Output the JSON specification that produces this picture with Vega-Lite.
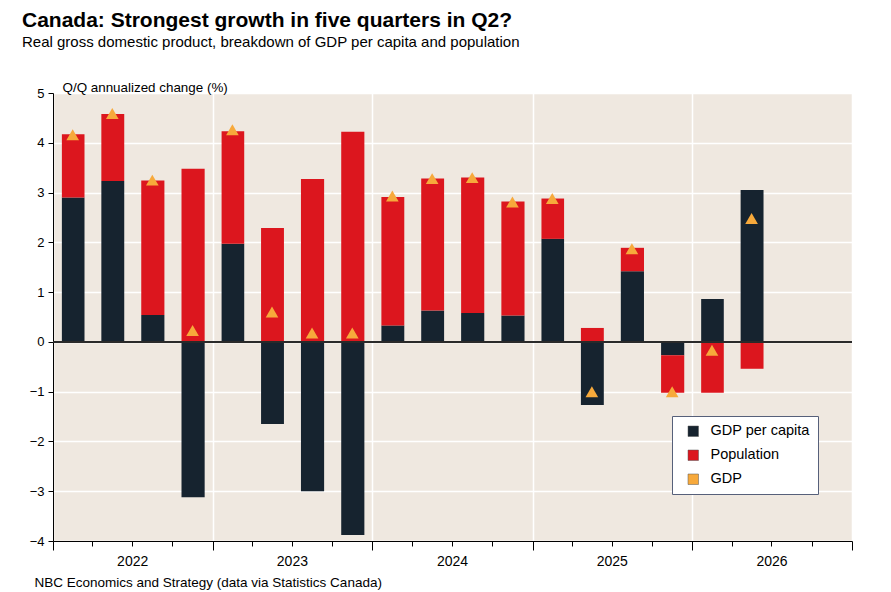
{
  "$schema": "https://vega.github.io/schema/vega-lite/v6.json",
  "width": 799,
  "height": 448,
  "autosize": "none",
  "padding": {"left": 53, "top": 93, "right": 39, "bottom": 51},
  "background": "#ffffff",
  "title": {
    "text": "Canada: Strongest growth in five quarters in Q2?",
    "subtitle": "Real gross domestic product, breakdown of GDP per capita and population",
    "anchor": "start",
    "frame": "group",
    "dx": -31,
    "offset": 30,
    "font": "Liberation Sans",
    "fontSize": 21,
    "fontWeight": "bold",
    "color": "#000000",
    "subtitleFont": "Liberation Sans",
    "subtitleFontSize": 15,
    "subtitleColor": "#000000",
    "subtitlePadding": 4
  },
  "data": {
    "values": [
      {"quarter": "2022/01/01", "GDP per capita": 2.90, "Population": 1.27, "GDP": 4.16},
      {"quarter": "2022/04/01", "GDP per capita": 3.23, "Population": 1.35, "GDP": 4.59},
      {"quarter": "2022/07/01", "GDP per capita": 0.54, "Population": 2.70, "GDP": 3.25},
      {"quarter": "2022/10/01", "GDP per capita": -3.12, "Population": 3.48, "GDP": 0.23},
      {"quarter": "2023/01/01", "GDP per capita": 1.97, "Population": 2.26, "GDP": 4.26},
      {"quarter": "2023/04/01", "GDP per capita": -1.65, "Population": 2.29, "GDP": 0.60},
      {"quarter": "2023/07/01", "GDP per capita": -3.00, "Population": 3.27, "GDP": 0.18},
      {"quarter": "2023/10/01", "GDP per capita": -3.88, "Population": 4.22, "GDP": 0.18},
      {"quarter": "2024/01/01", "GDP per capita": 0.33, "Population": 2.58, "GDP": 2.93},
      {"quarter": "2024/04/01", "GDP per capita": 0.63, "Population": 2.65, "GDP": 3.28},
      {"quarter": "2024/07/01", "GDP per capita": 0.58, "Population": 2.72, "GDP": 3.30},
      {"quarter": "2024/10/01", "GDP per capita": 0.53, "Population": 2.29, "GDP": 2.81},
      {"quarter": "2025/01/01", "GDP per capita": 2.07, "Population": 0.81, "GDP": 2.88},
      {"quarter": "2025/04/01", "GDP per capita": -1.27, "Population": 0.28, "GDP": -1.00},
      {"quarter": "2025/07/01", "GDP per capita": 1.42, "Population": 0.47, "GDP": 1.87},
      {"quarter": "2025/10/01", "GDP per capita": -0.27, "Population": -0.75, "GDP": -1.00},
      {"quarter": "2026/01/01", "GDP per capita": 0.86, "Population": -1.02, "GDP": -0.17},
      {"quarter": "2026/04/01", "GDP per capita": 3.05, "Population": -0.54, "GDP": 2.48}
    ],
    "format": {"parse": {"quarter": "date"}}
  },
  "layer": [
    {
      "transform": [{"fold": ["GDP per capita", "Population"], "as": ["series", "change"]}],
      "mark": {"type": "bar", "width": {"band": 0.6}},
      "encoding": {
        "x": {
          "field": "quarter",
          "type": "temporal",
          "timeUnit": "yearquarter",
          "scale": {"domain": [{"year": 2022, "month": 1, "date": 1}, {"year": 2027, "month": 1, "date": 1}]},
          "axis": {
            "title": "NBC Economics and Strategy (data via Statistics Canada)",
            "titleX": -19,
            "titleY": 45,
            "titleAlign": "left",
            "titleAnchor": "start",
            "titleBaseline": "alphabetic",
            "titleFontSize": 13.5,
            "tickCount": {"interval": "month", "step": 3},
            "format": "%Y",
            "labelExpr": "month(datum.value) == 6 ? datum.label : ''",
            "labelOverlap": false,
            "labelFlush": false,
            "labelBound": false,
            "labelFontSize": 14,
            "labelPadding": 8,
            "tickSize": {"condition": {"test": "month(datum.value) == 0", "value": 9}, "value": 5},
            "gridOpacity": {"condition": {"test": "month(datum.value) == 0", "value": 1}, "value": 0}
          }
        },
        "y": {
          "field": "change",
          "type": "quantitative",
          "stack": "zero",
          "scale": {"domain": [-4, 5], "nice": false},
          "axis": {
            "title": "Q/Q annualized change (%)",
            "titleAngle": 0,
            "titleAlign": "left",
            "titleBaseline": "middle",
            "titleX": 9,
            "titleY": -6,
            "titleFontSize": 13.4,
            "values": [-4, -3, -2, -1, 0, 1, 2, 3, 4, 5],
            "labelFontSize": 13,
            "labelPadding": 4,
            "tickSize": 5
          }
        },
        "order": {"field": "series", "sort": "ascending"},
        "color": {
          "field": "series",
          "type": "nominal",
          "scale": {
            "domain": ["GDP per capita", "Population", "GDP"],
            "range": ["#16232F", "#DC161E", "#F7A93B"]
          },
          "legend": {
            "orient": "none",
            "legendX": 619,
            "legendY": 323,
            "title": null,
            "fillColor": "#ffffff",
            "strokeColor": "#56607a",
            "padding": 8,
            "symbolOffset": 6,
            "symbolType": "square",
            "symbolSize": 110,
            "symbolStrokeColor": "#555555",
            "symbolStrokeWidth": 0.5,
            "labelFontSize": 14.5,
            "labelColor": "#000000",
            "labelOffset": 10,
            "rowPadding": 9
          }
        }
      }
    },
    {
      "mark": {"type": "rule", "color": "#2b2b2b", "strokeWidth": 1.2},
      "encoding": {"y": {"datum": 0}}
    },
    {
      "mark": {"type": "point", "shape": "triangle-up", "filled": true, "size": 160, "opacity": 1},
      "encoding": {
        "x": {"field": "quarter", "type": "temporal", "timeUnit": "yearquarter", "bandPosition": 0.5},
        "y": {"field": "GDP", "type": "quantitative"},
        "color": {"datum": "GDP"}
      }
    }
  ],
  "config": {
    "font": "Liberation Sans",
    "view": {"fill": "#EFE8E0", "stroke": null},
    "axis": {
      "domainColor": "#000000",
      "tickColor": "#000000",
      "labelColor": "#000000",
      "titleColor": "#000000",
      "titleFontWeight": "normal",
      "grid": true,
      "gridColor": "#ffffff",
      "gridWidth": 1.5
    }
  }
}
